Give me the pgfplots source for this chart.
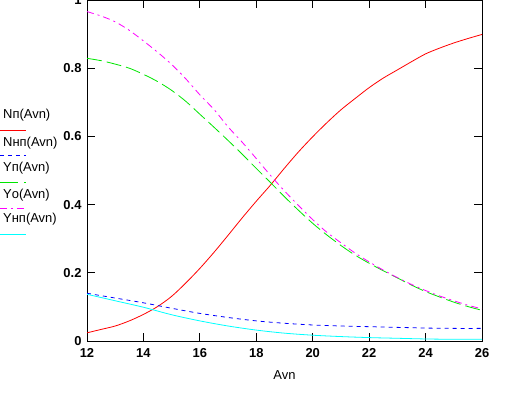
\documentclass[border=0pt]{standalone}
\usepackage{pgfplots}
\pgfplotsset{compat=1.18}
\usepackage{fontspec}
\setmainfont{Liberation Sans}
\definecolor{mred}{RGB}{255,0,0}
\definecolor{mblue}{RGB}{0,0,255}
\definecolor{mgreen}{RGB}{0,230,0}
\definecolor{mmag}{RGB}{255,0,255}
\definecolor{mcyan}{RGB}{0,255,255}
\begin{document}
\begin{tikzpicture}[x=1bp,y=1bp]
\useasboundingbox (-87,-54) rectangle (435,341);
\begin{axis}[
  scale only axis, width=395bp, height=341bp,
  xmin=12, xmax=26, ymin=0, ymax=1,
  xtick={12,14,16,18,20,22,24,26},
  xticklabels={12,14,16,18,20,22,24,26},
  ytick={0,0.2,0.4,0.6,0.8,1},
  yticklabels={0,0.2,0.4,0.6,0.8,1},
  tick align=inside, major tick length=8bp,
  tick pos=both, xticklabel pos=lower, yticklabel pos=left,
  axis line style={black, line width=0.8bp},
  tick style={black, line width=0.8bp},
  ticklabel style={font=\fontsize{13}{15}\selectfont\bfseries},
  xticklabel style={yshift=-4bp},
  yticklabel style={xshift=-2bp},
  /pgf/number format/assume math mode=true,
  xlabel={Avn},
  xlabel style={font=\fontsize{13}{15}\selectfont, yshift=-6bp},
  every axis plot/.append style={line width=0.8bp, no marks, smooth},
  clip=true,
]
% N_p (red)
\addplot[mred] coordinates {
(12,0.024) (12.5,0.034) (13,0.044) (13.5,0.059) (14,0.078) (14.5,0.101)
(15,0.131) (15.5,0.170) (16,0.213) (16.5,0.260) (17,0.310) (17.5,0.361)
(18,0.410) (18.5,0.457) (19,0.507) (19.5,0.555) (20,0.599) (20.5,0.640)
(21,0.678) (21.5,0.711) (22,0.743) (22.5,0.771) (23,0.795) (23.5,0.819)
(24,0.842) (24.5,0.859) (25,0.874) (25.5,0.887) (26,0.899)};
% N_np (blue dashed)
\addplot[mblue, dash pattern=on 4bp off 4bp] coordinates {
(12,0.140) (13,0.126) (14,0.112) (15,0.096) (16,0.081) (17,0.069)
(18,0.059) (19,0.052) (20,0.047) (21,0.044) (22,0.042) (23,0.040)
(24,0.038) (25,0.037) (26,0.037)};
% Y_p (green)
\addplot[mgreen, dash pattern=on 15bp off 5bp] coordinates {
(12,0.829) (12.5,0.822) (13,0.812) (13.5,0.800) (14,0.782) (14.5,0.761)
(15,0.735) (15.5,0.703) (16,0.665) (16.5,0.627) (17,0.588) (17.5,0.548)
(18,0.506) (18.5,0.465) (19,0.423) (19.5,0.383) (20,0.345) (20.5,0.311)
(21,0.280) (21.5,0.252) (22,0.228) (22.5,0.206) (23,0.185) (23.5,0.164)
(24,0.145) (24.5,0.129) (25,0.114) (25.5,0.101) (26,0.090)};
% Y_o (magenta dash-dot)
\addplot[mmag, dash pattern=on 7bp off 4bp on 2bp off 4bp] coordinates {
(12,0.966) (12.5,0.953) (13,0.936) (13.5,0.911) (14,0.880) (14.5,0.847)
(15,0.811) (15.5,0.769) (16,0.722) (16.5,0.679) (17,0.628) (17.5,0.583)
(18,0.535) (18.5,0.486) (19,0.440) (19.5,0.397) (20,0.356) (20.5,0.319)
(21,0.288) (21.5,0.258) (22,0.232) (22.5,0.208) (23,0.186) (23.5,0.166)
(24,0.148) (24.5,0.132) (25,0.118) (25.5,0.105) (26,0.094)};
% Y_np (cyan)
\addplot[mcyan] coordinates {
(12,0.137) (13,0.118) (14,0.099) (15,0.077) (16,0.059) (17,0.044)
(18,0.032) (19,0.023) (20,0.017) (21,0.013) (22,0.010) (23,0.008)
(24,0.006) (25,0.005) (26,0.005)};
\end{axis}
% legend (Mathcad-style trace labels)
\begin{scope}[every node/.style={anchor=west, inner sep=0pt, font=\fontsize{13}{15}\selectfont}]
\node at (-84,226) {Nп(Avn)};
\draw[mred, line width=0.8bp] (-87,211) -- (-61,211);
\node at (-84,198.3) {Nнп(Avn)};
\draw[mblue, line width=0.8bp, dash pattern=on 4bp off 4bp] (-87,185.3) -- (-61,185.3);
\node at (-84,172.7) {Yп(Avn)};
\draw[mgreen, line width=0.8bp, dash pattern=on 18bp off 6bp] (-87,158.7) -- (-61,158.7);
\node at (-84,146) {Yо(Avn)};
\draw[mmag, line width=0.8bp, dash pattern=on 7bp off 4bp on 2bp off 4bp] (-87,132.7) -- (-61,132.7);
\node at (-84,122) {Yнп(Avn)};
\draw[mcyan, line width=0.8bp] (-87,106.7) -- (-61,106.7);
\end{scope}
\end{tikzpicture}
\end{document}
